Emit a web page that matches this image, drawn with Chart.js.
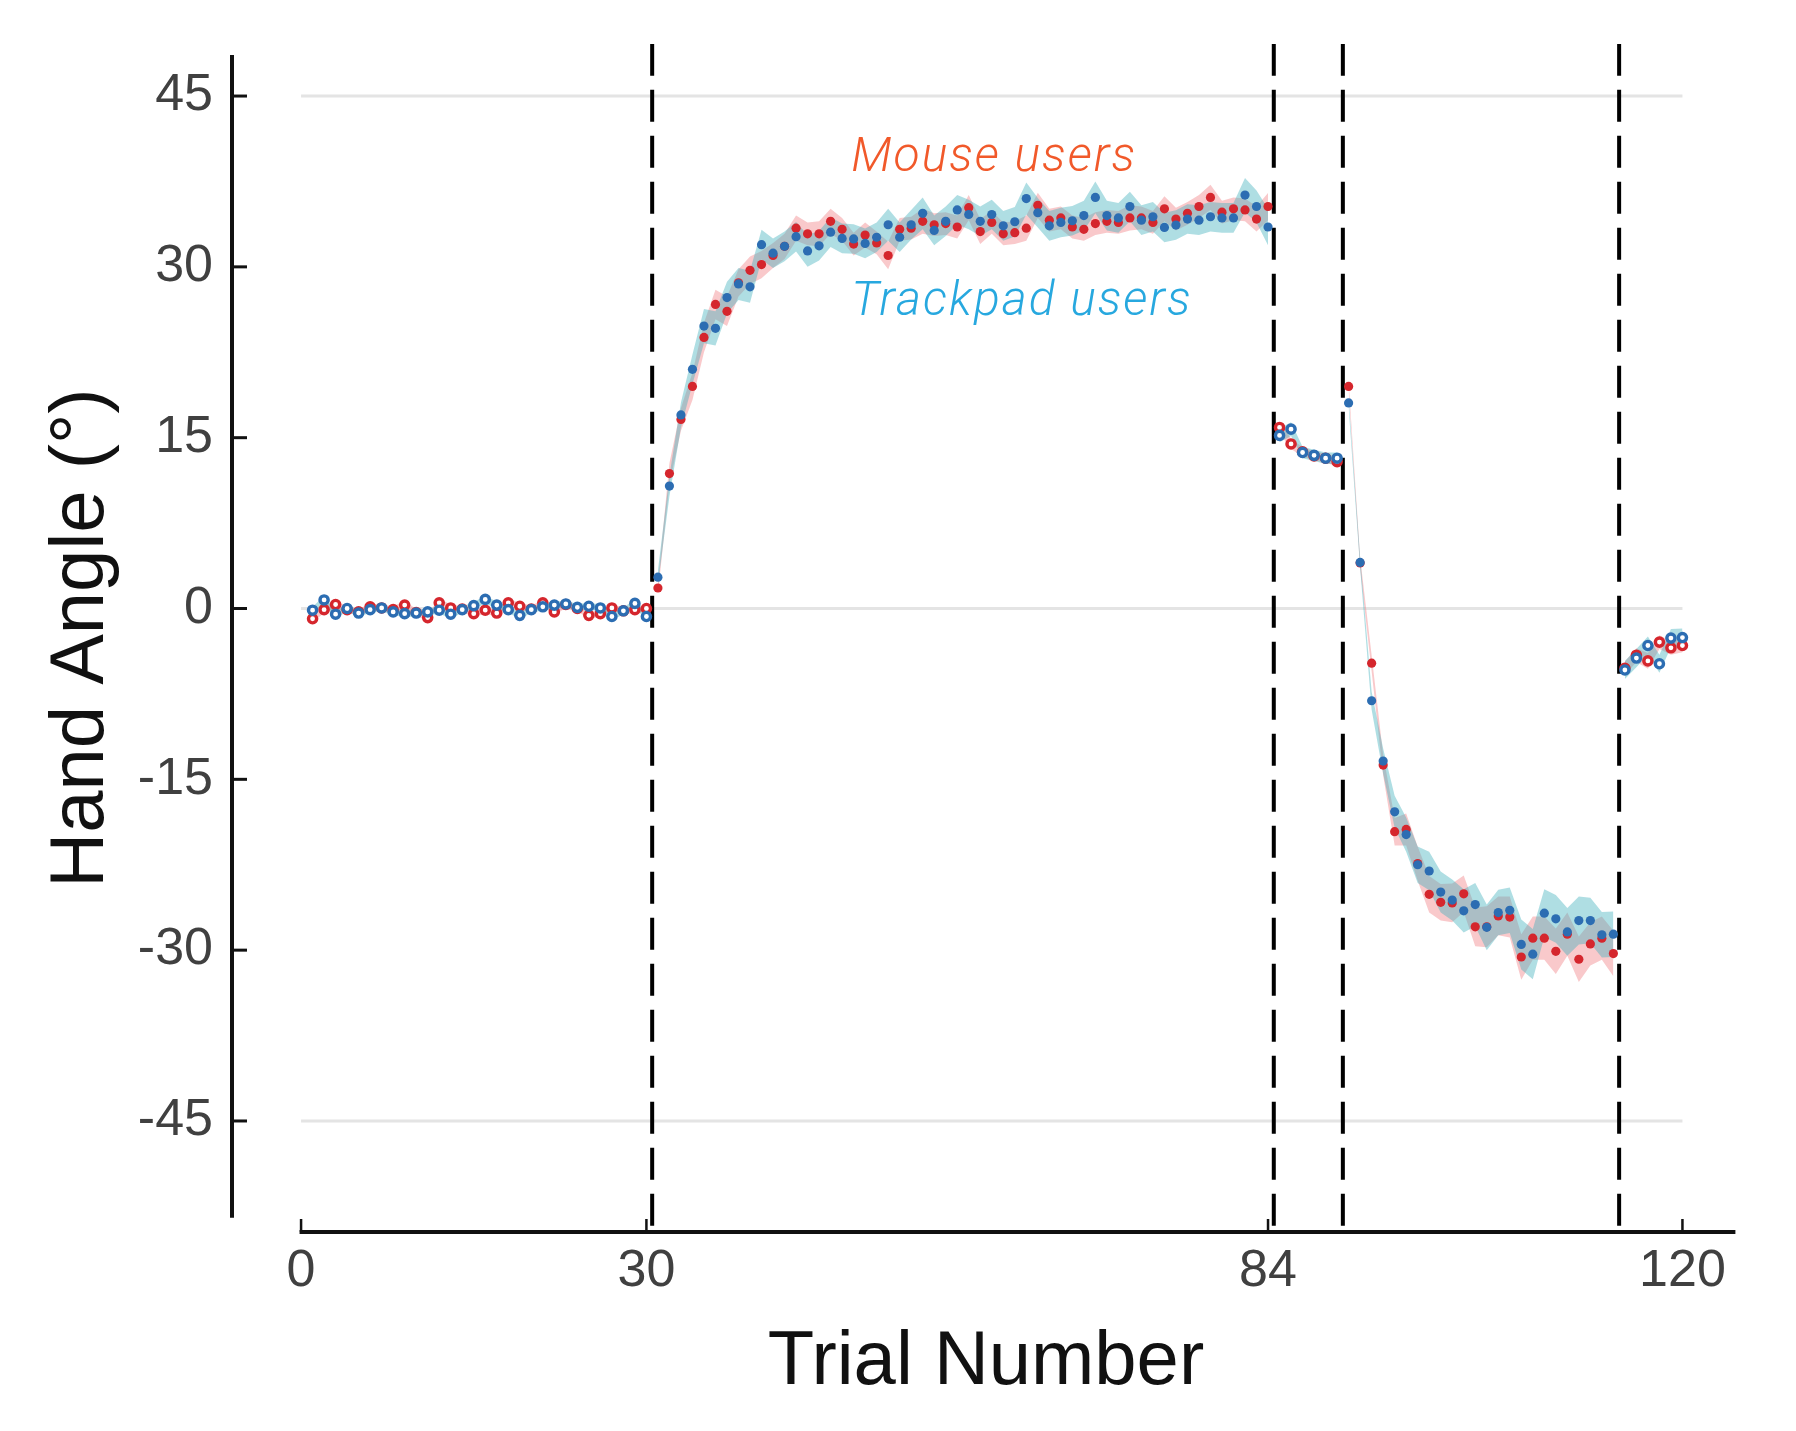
<!DOCTYPE html>
<html>
<head>
<meta charset="utf-8">
<script src="https://cdn.jsdelivr.net/npm/chart.js@4.4.1/dist/chart.umd.min.js"></script>
<style>
  html, body { margin: 0; padding: 0; background: #fff; }
  canvas { display: block; }
</style>
</head>
<body>
<canvas id="chart" width="1796" height="1431"></canvas>
<script>
// Ticks del eje y / eje x
const yTicks = [-45, -30, -15, 0, 15, 30, 45];
const xTicks = [0, 30, 84, 120];
const gridRows = [-45, 0, 45];

// Límites entre fases (líneas discontinuas)
const phaseBreaks = [30.5, 84.5, 90.5, 114.5];
// true = fase con feedback (puntos rellenos), false = sin feedback (anillos)
const phaseFeedback = [false, true, false, true, false];

// Medias por ensayo (1..120)
const mouseMean = [
  -0.9, -0.1, 0.35, -0.1, -0.3, 0.15, 0.05, -0.1, 0.3, -0.35,
  -0.8, 0.5, 0.05, -0.05, -0.45, -0.15, -0.4, 0.5, 0.2, -0.05,
  0.5, -0.3, 0.35, 0.0, -0.6, -0.45, 0.05, -0.2, -0.1, 0.0,
  1.8, 11.85, 16.6, 19.5, 23.8, 26.7, 26.1, 28.6, 29.7, 30.2,
  31.0, 31.8, 33.4, 32.9, 32.9, 34.0, 33.3, 32.0, 32.8, 32.1,
  31.0, 33.3, 33.4, 34.0, 33.7, 33.8, 33.5, 35.2, 33.1, 33.9,
  32.9, 33.0, 33.4, 35.4, 34.1, 34.3, 33.5, 33.3, 33.8, 34.0,
  33.9, 34.3, 34.3, 33.9, 35.1, 34.2, 34.7, 35.3, 36.1, 34.8,
  35.1, 35.0, 34.2, 35.3,
  15.9, 14.45, 13.75, 13.4, 13.2, 12.9,
  19.5, 4.0, -4.8, -13.75, -19.6, -19.4, -22.4, -25.1, -25.8, -25.85,
  -25.05, -27.95, -27.95, -27.0, -27.1, -30.6, -28.95, -28.95, -30.1, -28.6,
  -30.8, -29.45, -28.95, -30.3,
  -5.25, -4.1, -4.6, -2.95, -3.45, -3.25
];
const trackMean = [
  -0.15, 0.75, -0.5, 0.0, -0.4, -0.1, 0.05, -0.3, -0.45, -0.4,
  -0.3, -0.15, -0.5, -0.1, 0.25, 0.8, 0.3, -0.1, -0.6, -0.1,
  0.15, 0.3, 0.4, 0.1, 0.2, 0.05, -0.7, -0.2, 0.45, -0.7,
  2.75, 10.75, 17.0, 21.0, 24.8, 24.6, 27.3, 28.5, 28.25, 31.95,
  31.2, 31.8, 32.65, 31.4, 31.85, 33.05, 32.5, 32.45, 32.06, 32.6,
  33.7, 32.6, 33.7, 34.7, 33.2, 34.0, 35.0, 34.6, 34.0, 34.6,
  33.6, 33.96, 36.0, 34.75, 33.6, 33.9, 34.05, 34.5, 36.1, 34.5,
  34.3, 35.3, 34.1, 34.4, 33.46, 33.67, 34.2, 34.1, 34.4, 34.3,
  34.3, 36.3, 35.3, 33.5,
  15.2, 15.75, 13.7, 13.45, 13.2, 13.2,
  18.05, 4.05, -8.1, -13.4, -17.85, -19.85, -22.5, -23.05, -24.9, -25.6,
  -26.55, -26.0, -28.0, -26.7, -26.5, -29.5, -30.35, -26.75, -27.25, -28.4,
  -27.4, -27.4, -28.65, -28.6,
  -5.4, -4.35, -3.25, -4.85, -2.6, -2.55
];

// Error estándar por ensayo (ancho de la banda)
const mouseSem = [
  0.3, 0.3, 0.35, 0.3, 0.25, 0.3, 0.3, 0.3, 0.35, 0.3,
  0.3, 0.35, 0.3, 0.25, 0.3, 0.3, 0.3, 0.35, 0.3, 0.3,
  0.3, 0.3, 0.3, 0.25, 0.3, 0.3, 0.3, 0.3, 0.3, 0.3,
  0.5, 0.9, 1.0, 1.2, 1.3, 1.3, 1.3, 1.2, 1.2, 1.2,
  1.1, 1.1, 1.1, 1.0, 1.1, 1.1, 1.0, 1.0, 1.1, 1.0,
  1.2, 1.0, 1.0, 1.1, 1.0, 1.0, 1.0, 1.1, 1.1, 1.0,
  1.0, 1.0, 1.1, 1.1, 1.0, 1.0, 1.0, 1.0, 1.0, 1.0,
  1.0, 1.1, 1.0, 1.0, 1.1, 1.0, 1.0, 1.0, 1.1, 1.0,
  1.0, 1.0, 1.1, 1.2,
  0.5, 0.45, 0.4, 0.4, 0.4, 0.4,
  0.4, 0.5, 0.7, 0.9, 1.2, 1.4, 1.5, 1.6, 1.6, 1.7,
  1.6, 1.7, 1.8, 1.7, 1.8, 2.0, 1.9, 1.9, 2.0, 1.9,
  2.0, 1.9, 1.9, 2.0,
  0.6, 0.6, 0.7, 0.6, 0.6, 0.6
];
const trackSem = [
  0.3, 0.35, 0.3, 0.3, 0.3, 0.3, 0.3, 0.3, 0.3, 0.3,
  0.3, 0.3, 0.35, 0.3, 0.3, 0.35, 0.3, 0.3, 0.3, 0.3,
  0.3, 0.3, 0.3, 0.3, 0.3, 0.3, 0.35, 0.3, 0.3, 0.35,
  0.6, 0.9, 1.1, 1.3, 1.5, 1.5, 1.4, 1.4, 1.4, 1.3,
  1.3, 1.3, 1.3, 1.4, 1.3, 1.3, 1.3, 1.3, 1.3, 1.3,
  1.4, 1.3, 1.3, 1.4, 1.3, 1.3, 1.3, 1.3, 1.3, 1.3,
  1.3, 1.3, 1.4, 1.3, 1.3, 1.3, 1.3, 1.3, 1.4, 1.3,
  1.3, 1.3, 1.3, 1.3, 1.3, 1.3, 1.3, 1.3, 1.3, 1.3,
  1.3, 1.5, 1.4, 1.6,
  0.6, 0.6, 0.5, 0.5, 0.5, 0.5,
  0.4, 0.5, 0.8, 1.1, 1.4, 1.5, 1.6, 1.7, 1.8, 1.8,
  1.9, 1.9, 2.0, 2.0, 2.0, 2.2, 2.2, 2.1, 2.1, 2.1,
  2.1, 2.0, 2.0, 2.0,
  0.8, 0.8, 0.8, 0.8, 0.8, 0.8
];

// Colores
const colors = {
  mouse: '#d5262d',
  track: '#2c6db2',
  mouseBand: 'rgba(240,120,125,0.40)',
  trackBand: 'rgba(65,177,188,0.42)',
  grid: '#e4e4e4',
  axis: '#111111',
  tickLabel: '#404040'
};

const trials = mouseMean.map((_, i) => i + 1);
const phaseEdges = [0.5, ...phaseBreaks, trials.length + 0.5];

function phaseOf(t) {
  for (let p = 0; p < phaseEdges.length - 1; p++) {
    if (t > phaseEdges[p] && t < phaseEdges[p + 1]) return p;
  }
  return -1;
}

function buildGroup(mean, sem, color, bandColor, bandOrder, pointOrder) {
  const sets = [];
  // bandas por fase
  for (let p = 0; p < phaseEdges.length - 1; p++) {
    const idx = trials.filter(t => phaseOf(t) === p);
    sets.push({
      data: idx.map(t => ({ x: t, y: mean[t - 1] + sem[t - 1] })),
      borderWidth: 0, pointRadius: 0, fill: false, order: bandOrder
    });
    sets.push({
      data: idx.map(t => ({ x: t, y: mean[t - 1] - sem[t - 1] })),
      borderWidth: 0, pointRadius: 0, fill: '-1', backgroundColor: bandColor, order: bandOrder
    });
  }
  // anillos (sin feedback)
  sets.push({
    data: trials.filter(t => !phaseFeedback[phaseOf(t)]).map(t => ({ x: t, y: mean[t - 1] })),
    showLine: false, pointStyle: 'circle', pointRadius: 4.1, pointBorderWidth: 3.4,
    pointBackgroundColor: '#ffffff', pointBorderColor: color, order: pointOrder
  });
  // puntos rellenos (con feedback)
  sets.push({
    data: trials.filter(t => phaseFeedback[phaseOf(t)]).map(t => ({ x: t, y: mean[t - 1] })),
    showLine: false, pointStyle: 'circle', pointRadius: 4.6, pointBorderWidth: 0,
    pointBackgroundColor: color, pointBorderColor: color, order: pointOrder
  });
  return sets;
}

const datasets = [];
gridRows.forEach(v => datasets.push({
  data: [{ x: 0, y: v }, { x: 120, y: v }],
  borderColor: colors.grid, borderWidth: 3, pointRadius: 0, order: 100
}));
datasets.push(...buildGroup(mouseMean, mouseSem, colors.mouse, colors.mouseBand, 60, 20));
datasets.push(...buildGroup(trackMean, trackSem, colors.track, colors.trackBand, 50, 10));
phaseBreaks.forEach(b => datasets.push({
  data: [{ x: b, y: 49.6 }, { x: b, y: -54.75 }],
  borderColor: '#000', borderWidth: 4, borderDash: [32, 14], pointRadius: 0, order: 30
}));

// Ejes desplazados estilo MATLAB
const axesGeom = { yAxisAt: -6, yFrom: -53.5, yTo: 48.6, xAxisAt: -54.75, xFrom: 0, xTo: 124.6 };

const offsetAxes = {
  id: 'offsetAxes',
  afterDatasetsDraw(chart) {
    const { ctx, scales: { x, y } } = chart;
    ctx.save();
    ctx.strokeStyle = colors.axis;
    ctx.lineCap = 'butt';
    const ax = x.getPixelForValue(axesGeom.yAxisAt);
    const ay = y.getPixelForValue(axesGeom.xAxisAt);
    ctx.lineWidth = 4;
    ctx.beginPath();
    ctx.moveTo(ax, y.getPixelForValue(axesGeom.yTo));
    ctx.lineTo(ax, y.getPixelForValue(axesGeom.yFrom));
    ctx.stroke();
    ctx.beginPath();
    ctx.moveTo(x.getPixelForValue(axesGeom.xFrom) - 1.5, ay);
    ctx.lineTo(x.getPixelForValue(axesGeom.xTo), ay);
    ctx.stroke();
    ctx.lineWidth = 3;
    yTicks.forEach(v => {
      const py = y.getPixelForValue(v);
      ctx.beginPath(); ctx.moveTo(ax, py); ctx.lineTo(ax + 15, py); ctx.stroke();
    });
    ctx.lineWidth = 2.5;
    xTicks.forEach(v => {
      const px = x.getPixelForValue(v);
      ctx.beginPath(); ctx.moveTo(px, ay); ctx.lineTo(px, ay - 13); ctx.stroke();
    });
    ctx.restore();
  }
};

// Etiquetas de grupo
const groupLabels = [
  { text: 'Mouse users', x: 47.8, y: 38.4, color: '#f1592a' },
  { text: 'Trackpad users', x: 47.8, y: 25.8, color: '#27a8df' }
];
const labelPlugin = {
  id: 'groupLabels',
  afterDraw(chart) {
    const { ctx, scales: { x, y } } = chart;
    ctx.save();
    ctx.font = 'italic 300 48px Roboto, "Liberation Sans", sans-serif';
    ctx.letterSpacing = '2px';
    ctx.textBaseline = 'alphabetic';
    ctx.textAlign = 'left';
    groupLabels.forEach(l => {
      ctx.fillStyle = l.color;
      ctx.fillText(l.text, x.getPixelForValue(l.x), y.getPixelForValue(l.y));
    });
    ctx.restore();
  }
};

new Chart(document.getElementById('chart').getContext('2d'), {
  type: 'line',
  data: { datasets },
  options: {
    responsive: false,
    devicePixelRatio: 1,
    animation: false,
    layout: { padding: { top: 44, right: 56, bottom: 0, left: 0 } },
    plugins: { legend: { display: false }, tooltip: { enabled: false } },
    elements: { line: { tension: 0 } },
    scales: {
      x: {
        type: 'linear', min: -6, max: 125,
        afterFit: s => { s.height = 199; s.paddingLeft = 0; s.paddingRight = 0; },
        afterBuildTicks: s => { s.ticks = xTicks.map(v => ({ value: v })); },
        grid: { display: false, drawTicks: false },
        border: { display: false },
        ticks: {
          autoSkip: false, maxRotation: 0, padding: 8, color: colors.tickLabel,
          font: { family: '"Liberation Sans", Arial, sans-serif', size: 52 },
          callback: v => String(v)
        },
        title: {
          display: true, text: 'Trial Number', color: '#111',
          font: { family: '"Liberation Sans", Arial, sans-serif', size: 76 },
          padding: { top: 0, bottom: 22 }
        }
      },
      y: {
        type: 'linear', min: -54.75, max: 49.57,
        afterFit: s => { s.width = 232; s.paddingTop = 0; s.paddingBottom = 0; },
        afterBuildTicks: s => { s.ticks = yTicks.map(v => ({ value: v })); },
        grid: { display: false, drawTicks: false },
        border: { display: false },
        ticks: {
          padding: 19, color: colors.tickLabel,
          font: { family: '"Liberation Sans", Arial, sans-serif', size: 52 },
          callback: v => String(v)
        },
        title: {
          display: true, text: 'Hand Angle (°)', color: '#111',
          font: { family: '"Liberation Sans", Arial, sans-serif', size: 76 },
          padding: { top: 36, bottom: 0 }
        }
      }
    }
  },
  plugins: [offsetAxes, labelPlugin]
});
</script>
</body>
</html>
